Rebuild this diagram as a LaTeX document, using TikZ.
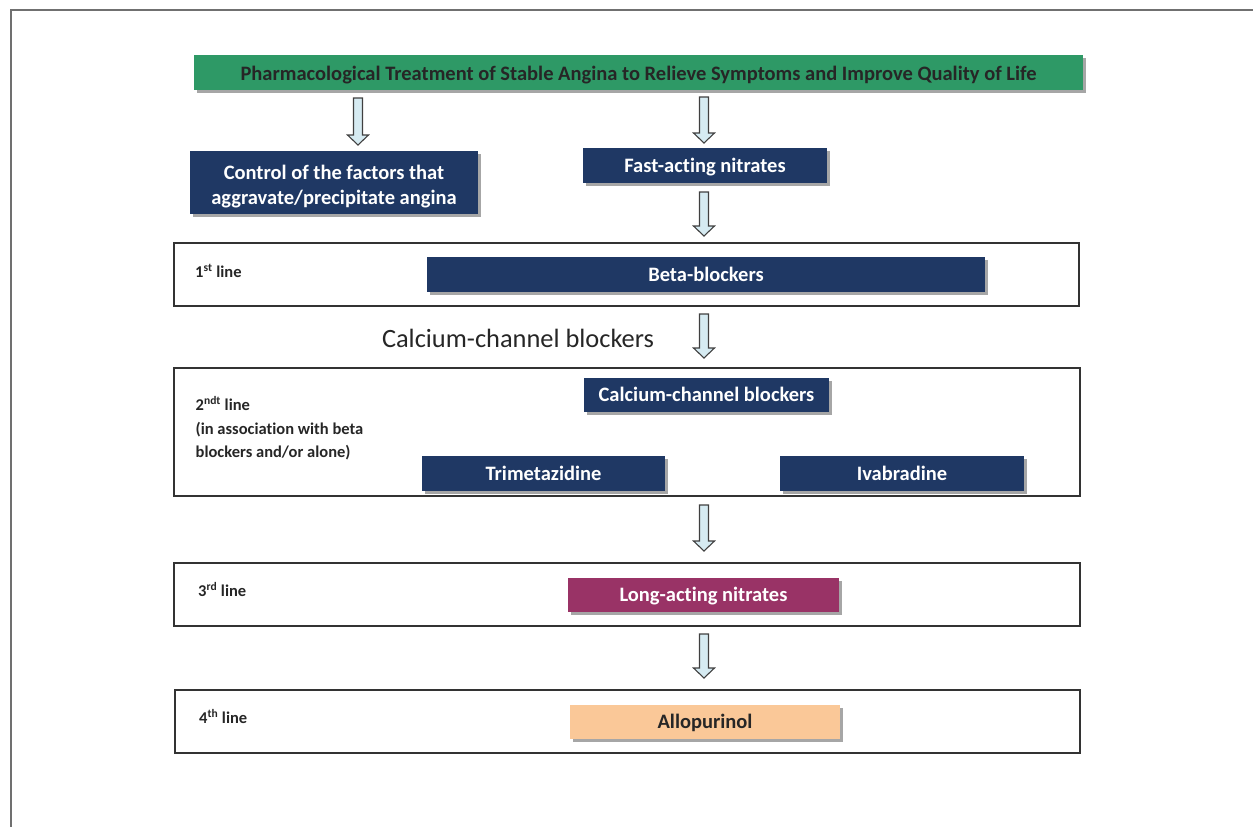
\documentclass[tikz,border=0pt]{standalone}
\usepackage{fontspec}
\setmainfont[Ligatures=NoCommon]{Carlito}
\usetikzlibrary{shadows,calc}
\definecolor{bannergreen}{HTML}{2E9966}
\definecolor{navy}{HTML}{1F3864}
\definecolor{plum}{HTML}{993366}
\definecolor{peach}{HTML}{FAC898}
\definecolor{arrowfill}{HTML}{D6EBF2}
\definecolor{darktext}{HTML}{262626}
\definecolor{framegray}{HTML}{707070}
\tikzset{
  shadowed/.style={drop shadow={shadow xshift=2.5pt,shadow yshift=-2.5pt,fill=black,opacity=0.35}},
  banner/.style={shadowed,fill=bannergreen,text=darktext,font=\bfseries\fontsize{20.5}{24}\selectfont,inner sep=0pt,text height=18pt,text depth=2pt},
  drug/.style={shadowed,fill=navy,text=white,font=\bfseries\fontsize{20.5}{24.7}\selectfont,inner sep=0pt,align=center,text height=16pt,text depth=3pt},
  linebox/.style={draw=black!80,line width=1.3pt,inner sep=0pt},
  linelabel/.style={text=darktext,font=\bfseries\fontsize{16.5}{23.3}\selectfont,align=left,inner sep=0pt,anchor=base west},
  blockarr/.style={draw=black!75,line width=1.1pt,fill=arrowfill,line join=miter},
}
\newcommand{\blockarrow}[2]{%
  \draw[blockarr] ($(#1)+(-4.5,0)$) -- ($(#1)+(4.5,0)$) -- ($(#2)+(4.5,-10)$) -- ($(#2)+(10.5,-10)$) -- (#2) -- ($(#2)+(-10.5,-10)$) -- ($(#2)+(-4.5,-10)$) -- cycle;}
\begin{document}
\begin{tikzpicture}[x=1pt,y=-1pt]
\useasboundingbox (0,0) rectangle (1253,827);
% outer frame (only top and left edges visible)
\draw[framegray,line width=1.4pt] (1253,10) -- (11,10) -- (11,827);

% level boxes
\node[linebox,minimum width=905pt,minimum height=63pt] (l1) at (626.5,274.5) {};
\node[linebox,minimum width=906pt,minimum height=128pt] (l2) at (627,432) {};
\node[linebox,minimum width=906pt,minimum height=63pt] (l3) at (627,594.5) {};
\node[linebox,minimum width=905pt,minimum height=63pt] (l4) at (627.5,721.5) {};

% banner
\node[banner,minimum width=889pt,minimum height=35pt] (top) at (638.5,72.8) {Pharmacological Treatment of Stable Angina to Relieve Symptoms and Improve Quality of Life};

% drug boxes
\node[drug,minimum width=288pt,minimum height=63pt,text height=46pt,text depth=3pt] (ctrl) at (334,182.5) {Control of the factors that\\aggravate/precipitate angina};
\node[drug,minimum width=244pt,minimum height=35pt] (fast) at (705,165.5) {Fast-acting nitrates};
\node[drug,minimum width=558pt,minimum height=35pt] (beta) at (706,274.5) {Beta-blockers};
\node[drug,minimum width=245pt,minimum height=34pt] (ccb) at (706.5,395) {Calcium-channel blockers};
\node[drug,minimum width=243pt,minimum height=35pt] (trim) at (543.5,473.5) {Trimetazidine};
\node[drug,minimum width=244pt,minimum height=35pt] (ivab) at (902,473.5) {Ivabradine};
\node[drug,fill=plum,minimum width=271pt,minimum height=34pt] (long) at (703.5,595) {Long-acting nitrates};
\node[drug,fill=peach,text=darktext,minimum width=270pt,minimum height=34pt] (allo) at (705,722) {Allopurinol};

% free label
\node[text=darktext,font=\fontsize{26.4}{30}\selectfont,inner sep=0pt] (ccblabel) at (518,338) {Calcium-channel blockers};

% line labels
\node[linelabel] (t1) at (195,277.7) {1\textsuperscript{st} line};
\node[linelabel] (t2) at (195.5,457.3) {2\textsuperscript{ndt} line\\(in association with beta\\blockers and/or alone)};
\node[linelabel] (t3) at (198,596.7) {3\textsuperscript{rd} line};
\node[linelabel] (t4) at (199,723.3) {4\textsuperscript{th} line};

% arrows
\coordinate (a1s) at (358,98);  \coordinate (a1e) at (358,145);
\coordinate (a2s) at (704,97);  \coordinate (a2e) at (704,143);
\coordinate (a3s) at (704,192); \coordinate (a3e) at (704,236);
\coordinate (a4s) at (704,314); \coordinate (a4e) at (704,358);
\coordinate (a5s) at (704,505); \coordinate (a5e) at (704,551);
\coordinate (a6s) at (704,634); \coordinate (a6e) at (704,678);
\blockarrow{a1s}{a1e}
\blockarrow{a2s}{a2e}
\blockarrow{a3s}{a3e}
\blockarrow{a4s}{a4e}
\blockarrow{a5s}{a5e}
\blockarrow{a6s}{a6e}
\end{tikzpicture}
\end{document}
